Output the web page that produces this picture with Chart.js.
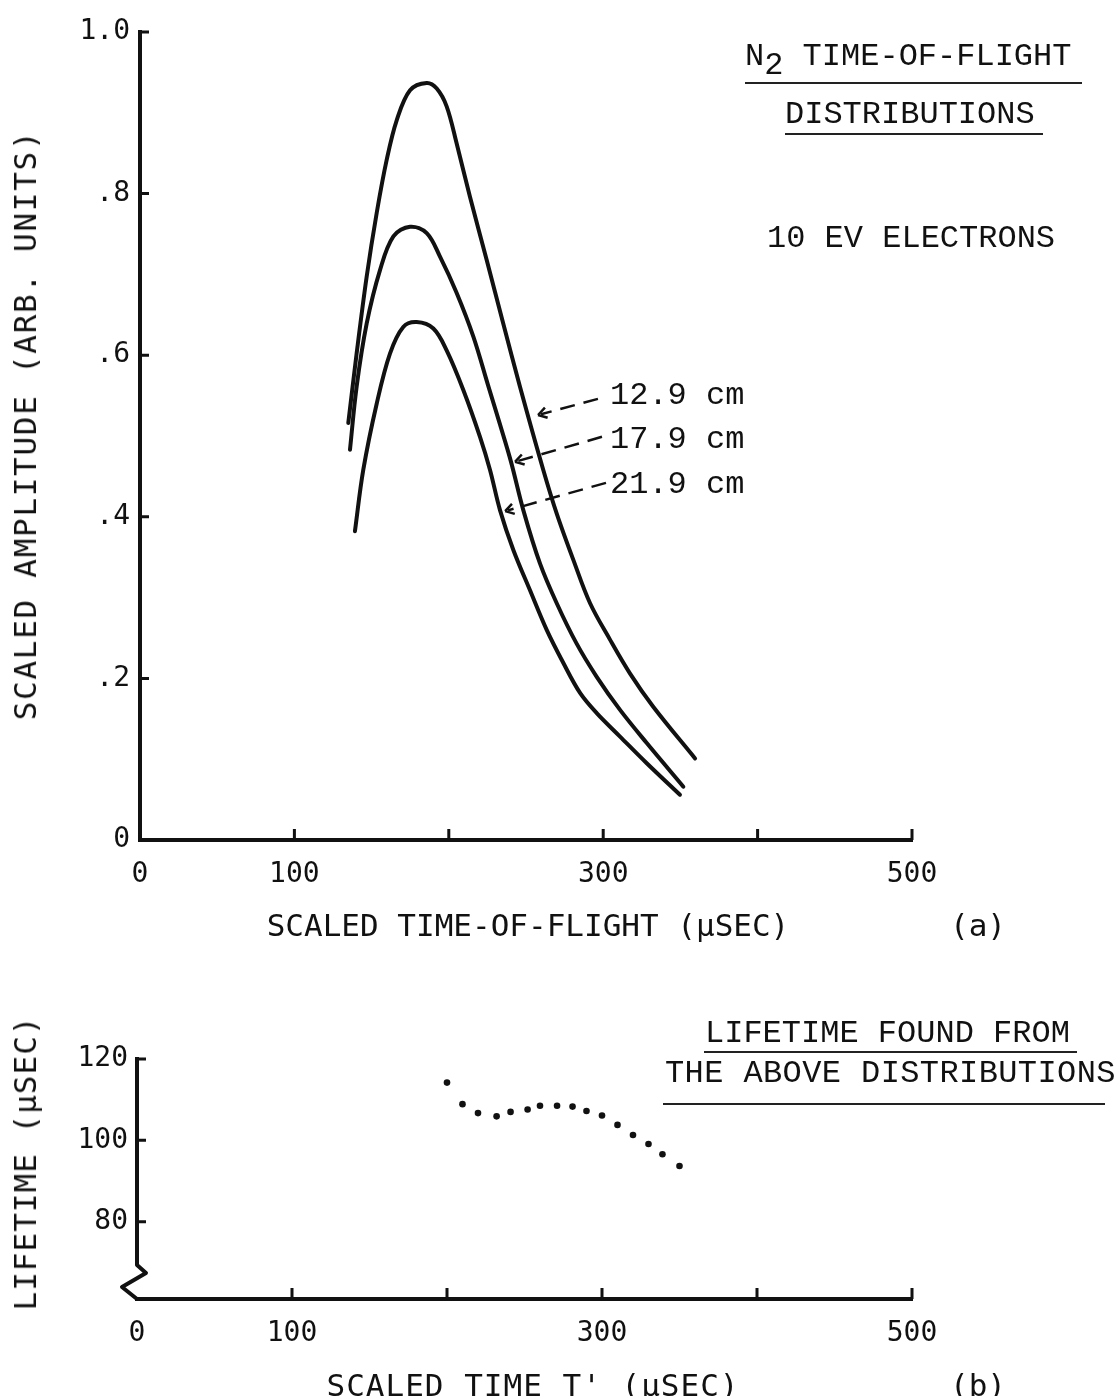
<!DOCTYPE html>
<html lang="en">
<head>
<meta charset="UTF-8" />
<title>N2 time-of-flight distributions</title>
<script src="https://cdn.jsdelivr.net/npm/chart.js"></script>
<style>
  body { margin: 0; background: #fff; }
  #page { position: relative; width: 1120px; height: 1396px; overflow: hidden; }
  canvas { position: absolute; left: 0; }
  .txt { position: absolute; font-family: "Liberation Mono", monospace; font-size: 32px; line-height: 32px; color: #111; white-space: nowrap; }
  .sans { font-family: "DejaVu Sans Mono", monospace; font-size: 31px; }
  .rot { transform: translate(-50%, -50%) rotate(-90deg); }
  .ctr { transform: translate(-50%, -50%); }
  .mid { transform: translateY(-50%); }
  .rule { position: absolute; height: 2px; background: #222; }
</style>
</head>
<body>
<div id="page">
  <canvas id="topChart" width="1120" height="960" style="top:0"></canvas>
  <canvas id="lifeChart" width="1120" height="436" style="top:960px"></canvas>

  <div class="txt sans rot" style="left:25px; top:425px; letter-spacing:1.7px">SCALED AMPLITUDE (ARB. UNITS)</div>
  <div class="txt sans ctr" style="left:528px; top:925px">SCALED TIME-OF-FLIGHT (&micro;SEC)</div>
  <div class="txt sans ctr" style="left:978px; top:925px">(a)</div>

  <div class="txt mid" style="left:745px; top:57px">N<span style="position:relative; top:9px">2</span> TIME-OF-FLIGHT</div>
  <div class="rule" style="left:745px; width:337px; top:82px"></div>
  <div class="txt mid" style="left:785px; top:115px">DISTRIBUTIONS</div>
  <div class="rule" style="left:785px; width:258px; top:133px"></div>
  <div class="txt mid" style="left:767px; top:239px">10 EV ELECTRONS</div>

  <div class="txt mid" style="left:610px; top:396px">12.9 cm</div>
  <div class="txt mid" style="left:610px; top:440px">17.9 cm</div>
  <div class="txt mid" style="left:610px; top:485px">21.9 cm</div>

  <div class="txt sans rot" style="left:25px; top:1163px; letter-spacing:1px">LIFETIME (&micro;SEC)</div>
  <div class="txt sans ctr" style="left:533px; top:1385px; letter-spacing:1px">SCALED TIME T' (&micro;SEC)</div>
  <div class="txt sans ctr" style="left:978px; top:1385px">(b)</div>

  <div class="txt mid" style="left:705px; top:1034px">LIFETIME FOUND FROM</div>
  <div class="rule" style="left:704px; width:373px; top:1051px"></div>
  <div class="txt mid" style="left:665px; top:1074px; letter-spacing:0.4px">THE ABOVE DISTRIBUTIONS</div>
  <div class="rule" style="left:663px; width:442px; top:1103px"></div>
</div>

<script>
// (a) time-of-flight distributions, one pair of arrays per drift distance
const tof129 = [134.9, 140.3, 146.8, 153.3, 159.8, 166.3, 174.9, 185.7, 192.2, 198.6, 205.1, 213.7, 224.5, 235.3, 246.1, 261.2, 269.9, 280.6, 291.5, 304.4, 317.4, 332.4, 359.5];
const amp129 = [0.516, 0.602, 0.697, 0.776, 0.842, 0.891, 0.928, 0.937, 0.930, 0.908, 0.862, 0.796, 0.718, 0.639, 0.561, 0.458, 0.404, 0.347, 0.293, 0.248, 0.206, 0.165, 0.101];

const tof179 = [136.0, 140.3, 146.8, 155.4, 164.1, 174.9, 185.7, 194.3, 205.1, 215.9, 225.4, 233.2, 240.3, 248.3, 259.1, 269.9, 282.8, 295.8, 310.9, 328.2, 351.9];
const amp179 = [0.483, 0.561, 0.639, 0.705, 0.747, 0.759, 0.751, 0.722, 0.677, 0.623, 0.563, 0.514, 0.468, 0.408, 0.342, 0.293, 0.243, 0.202, 0.161, 0.120, 0.066];

const tof219 = [139.2, 144.6, 153.3, 161.9, 170.5, 179.2, 190.0, 198.6, 209.4, 220.2, 226.7, 233.2, 241.8, 252.6, 263.4, 274.2, 285.0, 295.8, 310.9, 328.2, 349.7];
const amp219 = [0.382, 0.458, 0.540, 0.602, 0.635, 0.641, 0.633, 0.606, 0.557, 0.499, 0.458, 0.408, 0.359, 0.309, 0.260, 0.219, 0.182, 0.157, 0.128, 0.095, 0.056];

// arrows from the "12.9 / 17.9 / 21.9 cm" labels: [tailX, tailY, tipX, tipY] in data units
const labelArrows = [
  [296.6, 0.546, 257.8, 0.526],
  [299.2, 0.499, 242.9, 0.468],
  [301.8, 0.442, 236.5, 0.407]
];

// (b) lifetime found from the distributions
const tPrime = [200, 210, 220, 232, 241, 252, 260, 271, 281, 290, 300, 310, 320, 330, 339, 350];
const lifetime = [114.2, 108.9, 106.7, 105.9, 107.0, 107.6, 108.5, 108.5, 108.3, 107.2, 106.1, 103.8, 101.3, 99.1, 96.6, 93.7];

// ticks
const xTicks = [0, 100, 200, 300, 400, 500];
const xTickLabels = ['0', '100', '', '300', '', '500'];
const ampTicks = [0, 0.2, 0.4, 0.6, 0.8, 1.0];
const ampTickLabels = ['0', '.2', '.4', '.6', '.8', '1.0'];
const lifeTicks = [80, 100, 120];
const lifeTickLabels = ['80', '100', '120'];

const INK = '#111';
const tickFont = { family: 'DejaVu Sans Mono', size: 28 };

function pts(xs, ys) {
  return xs.map((x, i) => ({ x: x, y: ys[i] }));
}

function curve(xs, ys) {
  return {
    data: pts(xs, ys),
    borderColor: INK,
    borderWidth: 4,
    borderCapStyle: 'round',
    borderJoinStyle: 'round',
    tension: 0.35,
    pointRadius: 0,
    fill: false
  };
}

// inward tick marks, the broken lifetime axis and the label arrows
const axisDecor = {
  id: 'axisDecor',
  afterDraw(chart, args, opts) {
    const ctx = chart.ctx;
    const a = chart.chartArea;
    const x = chart.scales.x;
    const y = chart.scales.y;
    ctx.save();
    ctx.strokeStyle = INK;
    ctx.lineWidth = 3;
    ctx.beginPath();
    x.ticks.forEach(t => {
      if (t.value === x.min) return;
      const px = x.getPixelForValue(t.value);
      ctx.moveTo(px, a.bottom);
      ctx.lineTo(px, a.bottom - 11);
    });
    y.ticks.forEach(t => {
      if (t.value === y.min) return;
      const py = y.getPixelForValue(t.value);
      ctx.moveTo(a.left, py);
      ctx.lineTo(a.left + 9, py);
    });
    ctx.stroke();

    if (opts.brokenAxis) {
      ctx.lineWidth = 4;
      ctx.lineJoin = 'round';
      ctx.beginPath();
      ctx.moveTo(a.left, y.getPixelForValue(y.max) - 2);
      ctx.lineTo(a.left, a.bottom - 34);
      ctx.lineTo(a.left + 9, a.bottom - 26);
      ctx.lineTo(a.left - 15, a.bottom - 12);
      ctx.lineTo(a.left, a.bottom);
      ctx.stroke();
    }

    (opts.arrows || []).forEach(ar => {
      const x1 = x.getPixelForValue(ar[0]), y1 = y.getPixelForValue(ar[1]);
      const x2 = x.getPixelForValue(ar[2]), y2 = y.getPixelForValue(ar[3]);
      const ang = Math.atan2(y1 - y2, x1 - x2);
      ctx.lineWidth = 2.5;
      ctx.setLineDash([15, 9]);
      ctx.beginPath();
      ctx.moveTo(x1, y1);
      ctx.lineTo(x2 + 3 * Math.cos(ang), y2 + 3 * Math.sin(ang));
      ctx.stroke();
      ctx.setLineDash([]);
      ctx.beginPath();
      [-0.55, 0.55].forEach(s => {
        ctx.moveTo(x2, y2);
        ctx.lineTo(x2 + 10 * Math.cos(ang + s), y2 + 10 * Math.sin(ang + s));
      });
      ctx.stroke();
    });
    ctx.restore();
  }
};

function xAxis(height) {
  return {
    type: 'linear',
    min: 0,
    max: 500,
    grid: { display: false, drawTicks: false },
    border: { color: INK, width: 4 },
    afterBuildTicks: s => { s.ticks = xTicks.map(v => ({ value: v })); },
    afterFit: s => { s.height = height; },
    ticks: {
      color: INK,
      font: tickFont,
      padding: 18,
      maxRotation: 0,
      autoSkip: false,
      callback: (v, i) => xTickLabels[i]
    }
  };
}

new Chart(document.getElementById('topChart'), {
  type: 'line',
  data: {
    datasets: [curve(tof129, amp129), curve(tof179, amp179), curve(tof219, amp219)]
  },
  options: {
    responsive: false,
    animation: false,
    layout: { padding: { top: 32, right: 208, bottom: 0, left: 0 } },
    plugins: {
      legend: { display: false },
      tooltip: { enabled: false },
      axisDecor: { arrows: labelArrows }
    },
    scales: {
      x: xAxis(120),
      y: {
        min: 0,
        max: 1,
        grid: { display: false, drawTicks: false },
        border: { color: INK, width: 4 },
        afterBuildTicks: s => { s.ticks = ampTicks.map(v => ({ value: v })); },
        afterFit: s => { s.width = 140; },
        ticks: {
          color: INK,
          font: tickFont,
          padding: 10,
          callback: (v, i) => ampTickLabels[i]
        }
      }
    }
  },
  plugins: [axisDecor]
});

new Chart(document.getElementById('lifeChart'), {
  type: 'line',
  data: {
    datasets: [{
      data: pts(tPrime, lifetime),
      showLine: false,
      pointRadius: 3.3,
      pointBorderWidth: 0,
      pointBackgroundColor: INK
    }]
  },
  options: {
    responsive: false,
    animation: false,
    layout: { padding: { top: 99, right: 208, bottom: 0, left: 0 } },
    plugins: {
      legend: { display: false },
      tooltip: { enabled: false },
      axisDecor: { brokenAxis: true }
    },
    scales: {
      x: xAxis(97),
      y: {
        min: 61,
        max: 120,
        grid: { display: false, drawTicks: false },
        border: { display: false },
        afterBuildTicks: s => { s.ticks = lifeTicks.map(v => ({ value: v })); },
        afterFit: s => { s.width = 137; },
        ticks: {
          color: INK,
          font: tickFont,
          padding: 9,
          callback: (v, i) => lifeTickLabels[i]
        }
      }
    }
  },
  plugins: [axisDecor]
});
</script>
</body>
</html>
